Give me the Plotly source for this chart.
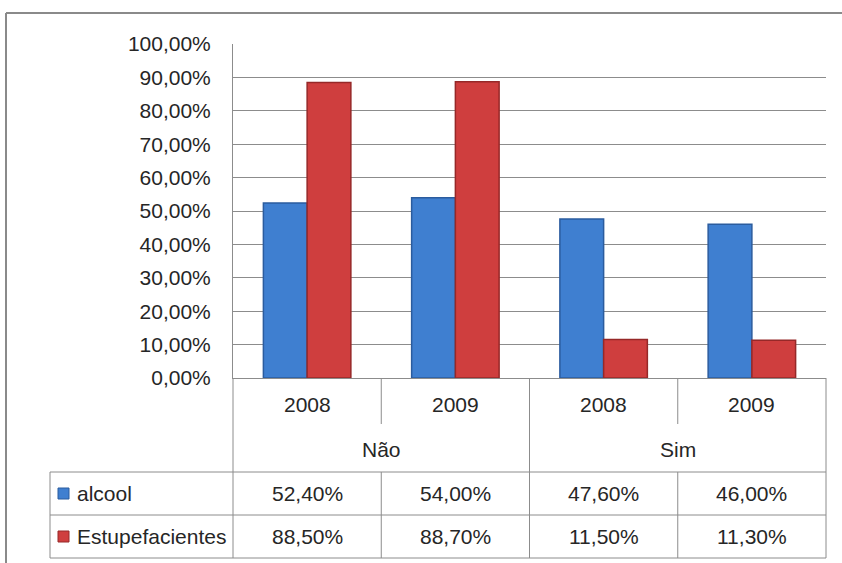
import plotly.graph_objects as go

# ---- data ----
groups = ["Não", "Não", "Sim", "Sim"]
years = ["2008", "2009", "2008", "2009"]
alcool = [52.40, 54.00, 47.60, 46.00]
estupefacientes = [88.50, 88.70, 11.50, 11.30]
series_names = ["alcool", "Estupefacientes"]
y_ticks = [0, 10, 20, 30, 40, 50, 60, 70, 80, 90, 100]

W, H = 842, 563
BLUE, BLUE_EDGE = "#3f7fd0", "#2b5c9e"
RED, RED_EDGE = "#cf3e3e", "#962828"
GRID = "#8c8c8c"
TXT = "#262626"
FONT = "Liberation Sans, Arial, sans-serif"
FS = 21


def px(x):
    return x / W


def py(y):
    return 1 - y / H


def fmt(v):
    return f"{v:.2f}%".replace(".", ",")


# plot area in pixels
L, R, T, B = 233, 826, 44, 378

n = len(years)
xs = list(range(n))

fig = go.Figure()
fig.add_trace(go.Bar(x=xs, y=alcool, name=series_names[0],
                     marker=dict(color=BLUE, line=dict(color=BLUE_EDGE, width=1.5))))
fig.add_trace(go.Bar(x=xs, y=estupefacientes, name=series_names[1],
                     marker=dict(color=RED, line=dict(color=RED_EDGE, width=1.5))))

shapes = []


def hline(y, x0, x1, color=GRID, w=1):
    shapes.append(dict(type="line", xref="paper", yref="paper",
                       x0=px(x0), x1=px(x1), y0=py(y), y1=py(y),
                       line=dict(color=color, width=w)))


def vline(x, y0, y1, color=GRID, w=1):
    shapes.append(dict(type="line", xref="paper", yref="paper",
                       x0=px(x), x1=px(x), y0=py(y0), y1=py(y1),
                       line=dict(color=color, width=w)))


# outer frame (partially visible)
hline(13, 6, W, color="#8a8a8a", w=2)
vline(6, 13, H, color="#8a8a8a", w=2)

# data table grid
ROW_YEAR_END = 424
ROW1 = 472
ROW2 = 515
ROW3 = 558
TAB_L = 50
cell_w = (R - L) / n
hline(ROW1, TAB_L, R)
hline(ROW2, TAB_L, R)
hline(ROW3, TAB_L, R)
vline(TAB_L, ROW1, ROW3)
vline(L, B, ROW3)
vline(R, B, ROW3)
for i in range(1, n):
    xb = L + i * cell_w
    if groups[i] != groups[i - 1]:
        vline(xb, B, ROW3)
    else:
        vline(xb, B, ROW_YEAR_END)
        vline(xb, ROW1, ROW3)

annotations = []


def text(x, xref, y, s, xanchor="center"):
    annotations.append(dict(x=x, xref=xref, y=py(y), yref="paper", text=s,
                            showarrow=False, xanchor=xanchor, yanchor="middle",
                            font=dict(family=FONT, size=FS, color=TXT)))


for i in range(n):
    text(xs[i], "x", 405, years[i])
    text(xs[i], "x", 493, fmt(alcool[i]))
    text(xs[i], "x", 536, fmt(estupefacientes[i]))

# group labels centred over their categories
seen = []
for g in groups:
    if g not in seen:
        seen.append(g)
for g in seen:
    idx = [i for i, gg in enumerate(groups) if gg == g]
    text(sum(xs[i] for i in idx) / len(idx), "x", 449, g)

# legend keys inside the table
for name, col, edge, yy in [(series_names[0], BLUE, BLUE_EDGE, 493),
                            (series_names[1], RED, RED_EDGE, 536)]:
    shapes.append(dict(type="rect", xref="paper", yref="paper",
                       x0=px(58), x1=px(69), y0=py(yy - 5), y1=py(yy + 6),
                       fillcolor=col, line=dict(color=edge, width=1)))
    text(px(75), "paper", yy, name, xanchor="left")

fig.update_layout(
    template="none",
    width=W, height=H,
    autosize=False,
    margin=dict(l=0, r=0, t=0, b=0, pad=0, autoexpand=False),
    paper_bgcolor="white", plot_bgcolor="white",
    separators=",.",
    barmode="group", bargap=0.41, bargroupgap=0,
    showlegend=False,
    shapes=shapes, annotations=annotations,
    xaxis=dict(domain=[px(L), px(R)], range=[-0.5, n - 0.5], automargin=False,
               showticklabels=False, showgrid=False, zeroline=False, ticks="",
               showline=True, linecolor=GRID, linewidth=1, fixedrange=True),
    yaxis=dict(domain=[py(B), py(T)], range=[0, 100], automargin=False,
               tickmode="array", tickvals=y_ticks,
               ticktext=[fmt(v) for v in y_ticks],
               showgrid=True, gridcolor=GRID, gridwidth=1, zeroline=False,
               showline=True, linecolor=GRID, linewidth=1,
               ticks="", ticklabelstandoff=17, fixedrange=True,
               tickfont=dict(family=FONT, size=FS, color=TXT)),
)

fig.write_html("out.html",
               config={"displayModeBar": False},
               post_script="document.body.style.margin='0';document.body.style.overflow='hidden';")
